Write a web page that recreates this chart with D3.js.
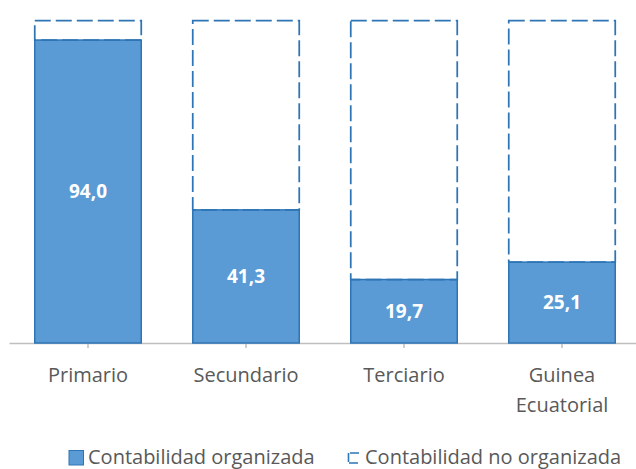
<!DOCTYPE html>
<html>
<head>
<meta charset="utf-8">
<script src="https://cdn.jsdelivr.net/npm/d3@7"></script>
<style>
  html, body { margin: 0; padding: 0; background: #fff; }
  svg { display: block; }
  text { font-family: "Open Sans", sans-serif; }
</style>
</head>
<body>
<svg id="chart" width="636" height="469"></svg>
<script>
const categories = [["Primario"], ["Secundario"], ["Terciario"], ["Guinea", "Ecuatorial"]];
const categoryKeys = ["Primario", "Secundario", "Terciario", "Guinea Ecuatorial"];
const organizada = [94.0, 41.3, 19.7, 25.1];
const noOrganizada = organizada.map(v => 100 - v);
const seriesNames = ["Contabilidad organizada", "Contabilidad no organizada"];

const W = 636, H = 469;
const svg = d3.select("#chart");
const fillBlue = "#5B9BD5", strokeBlue = "#2E75B6", textGray = "#595959";

const x = d3.scaleBand().domain(categoryKeys).range([9, 641]).paddingInner(0.326).paddingOuter(0.163);
const y = d3.scaleLinear().domain([0, 100]).range([343, 20.7]);

const fmt = d3.formatLocale({decimal: ",", thousands: ".", grouping: [3], currency: ["", "€"]}).format(".1f");

// axis
const axis = svg.append("g").attr("transform", "translate(0,343)")
  .call(d3.axisBottom(x).tickSize(5).tickSizeOuter(0).tickFormat(""));
axis.select(".domain").attr("stroke", "#bfbfbf").attr("stroke-width", 1.5);
axis.selectAll(".tick line").attr("stroke", "#bfbfbf").attr("stroke-width", 1.5);

// organized bars
svg.append("g").selectAll("rect").data(organizada).join("rect")
  .attr("x", (d, i) => x(categoryKeys[i]))
  .attr("y", d => y(d))
  .attr("width", x.bandwidth())
  .attr("height", d => y(0) - y(d))
  .attr("fill", fillBlue)
  .attr("stroke", strokeBlue)
  .attr("stroke-width", 1.5);

// not organized (dashed)
svg.append("g").selectAll("rect").data(noOrganizada).join("rect")
  .attr("x", (d, i) => x(categoryKeys[i]))
  .attr("y", (d, i) => y(organizada[i] + d))
  .attr("width", x.bandwidth())
  .attr("height", (d, i) => y(organizada[i]) - y(organizada[i] + d))
  .attr("fill", "none")
  .attr("stroke", strokeBlue)
  .attr("stroke-width", 1.75)
  .attr("stroke-dasharray", "16,5");

// value labels
svg.append("g").selectAll("text").data(organizada).join("text")
  .attr("x", (d, i) => x(categoryKeys[i]) + x.bandwidth() / 2)
  .attr("y", d => (y(d) + y(0)) / 2)
  .attr("dy", "0.35em")
  .attr("text-anchor", "middle")
  .attr("fill", "#fff")
  .attr("font-weight", "bold")
  .attr("font-size", 19)
  .text(d => fmt(d));

// category labels
const cl = svg.append("g").selectAll("text").data(categories).join("text")
  .attr("text-anchor", "middle")
  .attr("fill", textGray)
  .attr("font-size", 20)
  .attr("transform", (d, i) => `translate(${x(categoryKeys[i]) + x.bandwidth() / 2},382)`);
cl.selectAll("tspan").data(d => d).join("tspan")
  .attr("x", 0)
  .attr("y", (d, j) => j * 30)
  .text(d => d);

// legend
const lg = svg.append("g");
lg.append("rect").attr("x", 69).attr("y", 450.5).attr("width", 14.5).attr("height", 14.5)
  .attr("fill", fillBlue).attr("stroke", strokeBlue).attr("stroke-width", 1);
lg.append("text").attr("x", 88).attr("y", 464).attr("fill", textGray).attr("font-size", 20)
  .text(seriesNames[0]);
lg.append("path").attr("d", "M359,453 L348.5,453 L348.5,463 L359,463")
  .attr("fill", "none").attr("stroke", strokeBlue).attr("stroke-width", 1.6)
  .attr("stroke-dasharray", "9,1.5");
lg.append("text").attr("x", 365).attr("y", 464).attr("fill", textGray).attr("font-size", 20)
  .text(seriesNames[1]);
</script>
</body>
</html>
